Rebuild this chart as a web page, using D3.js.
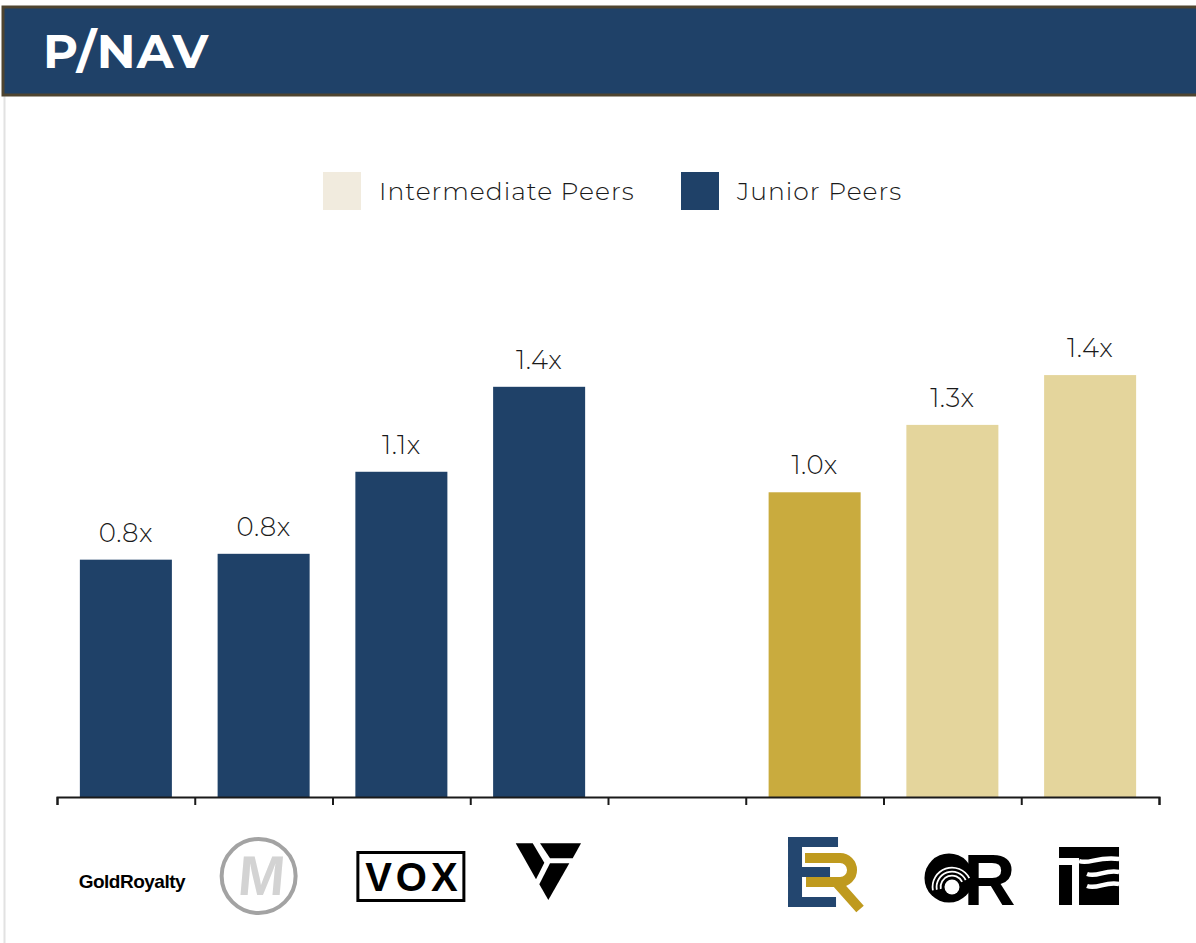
<!DOCTYPE html>
<html lang="en">

<head>
    <meta charset="UTF-8">
    <title>P/NAV</title>
    <style>
        body {
            margin: 0;
            background: #fff;
        }

        text {
            font-family: Montserrat, Inter, "Noto Sans", sans-serif;
        }

        .axis path,
        .axis line {
            stroke: #1a1a1a;
            stroke-width: 2px;
        }
    </style>
</head>

<body>

    <svg width="1196" height="943"></svg>

    <script src="https://d3js.org/d3.v7.min.js"></script>

    <script>
        // peers, left to right (empty slot = gap between the two groups)
        var companies = ["GoldRoyalty", "Metalla", "VOX", "V", "", "ER", "OR", "TF"];
        var groups = ["Junior", "Junior", "Junior", "Junior", null, "Highlight", "Intermediate", "Intermediate"];
        var pnav = [0.81, 0.83, 1.11, 1.40, null, 1.04, 1.27, 1.44];

        var legendLabels = ["Intermediate Peers", "Junior Peers"];

        var colors = {
            Junior: "#1f4168",
            Intermediate: "#e4d59c",
            Highlight: "#c9ab3e",
            legendIntermediate: "#f1ebde"
        };

        var svg = d3.select("svg");

        // header band
        svg.append("line")
            .attr("x1", 4.5).attr("x2", 4.5)
            .attr("y1", 96).attr("y2", 943)
            .attr("stroke", "#e2e2e2")
            .attr("stroke-width", 2);

        svg.append("rect")
            .attr("x", 3)
            .attr("y", 7)
            .attr("width", 1210)
            .attr("height", 88)
            .attr("fill", "#1f4168")
            .attr("stroke", "#4e4430")
            .attr("stroke-width", 3);

        svg.append("text")
            .attr("x", 43)
            .attr("y", 68)
            .attr("fill", "#fff")
            .style("font-size", "48px")
            .style("font-weight", 700)
            .style("letter-spacing", "1px")
            .text("P/NAV");

        // legend
        var legend = svg.append("g")
            .selectAll("g")
            .data(legendLabels)
            .enter().append("g")
            .attr("transform", function (d, i) { return "translate(" + (i ? 681 : 323) + ",172)"; });

        legend.append("rect")
            .attr("width", 38)
            .attr("height", 38)
            .attr("fill", function (d, i) { return i ? colors.Junior : colors.legendIntermediate; });

        legend.append("text")
            .attr("x", 56)
            .attr("y", 19)
            .attr("dy", "0.35em")
            .attr("fill", "#1a1a1a")
            .style("font-size", "25px")
            .style("font-weight", 300)
            .style("letter-spacing", "1px")
            .text(function (d) { return d; });

        // scales
        var x = d3.scaleBand()
            .domain(companies)
            .range([57, 1159])
            .paddingInner(0.332)
            .paddingOuter(0.166);

        var y = d3.scaleLinear()
            .domain([0, 1.5])
            .range([797, 797 - 1.5 * 293]);

        var data = companies.map(function (c, i) {
            return { name: c, group: groups[i], value: pnav[i] };
        }).filter(function (d) { return d.value != null; });

        svg.append("g")
            .selectAll("rect")
            .data(data)
            .enter().append("rect")
            .attr("x", function (d) { return x(d.name); })
            .attr("y", function (d) { return y(d.value); })
            .attr("width", x.bandwidth())
            .attr("height", function (d) { return y(0) - y(d.value); })
            .attr("fill", function (d) { return colors[d.group]; });

        svg.append("g")
            .selectAll("text")
            .data(data)
            .enter().append("text")
            .attr("x", function (d) { return x(d.name) + x.bandwidth() / 2; })
            .attr("y", function (d) { return y(d.value) - 18; })
            .attr("text-anchor", "middle")
            .attr("fill", "#1a1a1a")
            .style("font-size", "26px")
            .style("font-weight", 300)
            .style("letter-spacing", "0.5px")
            .text(function (d) { return d3.format(".1f")(d.value) + "x"; });

        // axis with ticks on the slot boundaries
        var slots = d3.scaleLinear()
            .domain([0, companies.length])
            .range(x.range());

        svg.append("g")
            .attr("class", "axis")
            .attr("transform", "translate(0," + y(0) + ")")
            .call(d3.axisBottom(slots)
                .ticks(companies.length)
                .tickSize(8)
                .tickSizeOuter(8)
                .tickFormat(""));

        // company logos under the axis (rough redraws)
        var logos = svg.append("g")
            .selectAll("g")
            .data(data)
            .enter().append("g")
            .attr("transform", function (d) {
                return "translate(" + (x(d.name) + x.bandwidth() / 2) + ",876)";
            })
            .each(function (d) { drawLogo(d3.select(this), d.name); });

        function drawLogo(g, name) {
            if (name == "GoldRoyalty") {
                g.append("text")
                    .attr("x", 6).attr("y", 12)
                    .attr("text-anchor", "middle")
                    .style("font-family", "'Liberation Sans', Arial, sans-serif")
                    .style("font-weight", 700)
                    .style("font-size", "19px")
                    .style("letter-spacing", "-0.5px")
                    .text("GoldRoyalty");
            }
            if (name == "Metalla") {
                g.append("circle")
                    .attr("cx", -5).attr("cy", 0).attr("r", 37)
                    .attr("fill", "none")
                    .attr("stroke", "#a3a3a3")
                    .attr("stroke-width", 4);
                g.append("text")
                    .attr("x", -2).attr("y", 19)
                    .attr("text-anchor", "middle")
                    .attr("fill", "#d3d3d3")
                    .attr("transform", "skewX(-5)")
                    .style("font-family", "'Liberation Sans', Arial, sans-serif")
                    .style("font-weight", 700)
                    .style("font-size", "56px")
                    .text("M");
            }
            if (name == "VOX") {
                g.append("rect")
                    .attr("x", -43.5).attr("y", -23.5)
                    .attr("width", 106).attr("height", 48)
                    .attr("fill", "none")
                    .attr("stroke", "#000")
                    .attr("stroke-width", 3);
                g.append("text")
                    .attr("x", 12).attr("y", 15)
                    .attr("text-anchor", "middle")
                    .style("font-family", "'Liberation Sans', Arial, sans-serif")
                    .style("font-weight", 700)
                    .style("font-size", "40px")
                    .style("letter-spacing", "4px")
                    .text("VOX");
            }
            if (name == "V") {
                var shapes = [
                    [[-23.4, -32.7], [-6.4, -32.7], [5.2, -13.3], [-3.1, 3.3]],
                    [[0.9, -32.7], [41.9, -32.7], [33.6, -17.7], [10.9, -17.7]],
                    [[10.9, -12.7], [30.2, -12.7], [9.2, 24], [0.2, 8.3]]
                ];
                shapes.forEach(function (p) {
                    g.append("polygon")
                        .attr("points", p.join(" "))
                        .attr("fill", "#000");
                });
            }
            if (name == "ER") {
                var e = [[-26.6, -39, 14, 70], [-26.6, -39, 50, 10], [-26.6, -9, 42, 10], [-26.6, 21, 48, 10]];
                e.forEach(function (r) {
                    g.append("rect")
                        .attr("x", r[0]).attr("y", r[1])
                        .attr("width", r[2]).attr("height", r[3])
                        .attr("fill", "#23466f");
                });
                g.append("path")
                    .attr("d", "M-9.6,-18H25.4A12,12 0 0 1 25.4,6H-8.6M21.4,6L45.4,33")
                    .attr("fill", "none")
                    .attr("stroke", "#bf9a1e")
                    .attr("stroke-width", 10);
            }
            if (name == "OR") {
                g.append("text")
                    .attr("x", 11).attr("y", 29)
                    .style("font-family", "'Liberation Sans', Arial, sans-serif")
                    .style("font-weight", 700)
                    .style("font-size", "72px")
                    .text("R");
                g.append("circle")
                    .attr("cx", -3.4).attr("cy", 2).attr("r", 24.5)
                    .attr("fill", "#000");
                [10.5, 14.5, 18.5].forEach(function (r) {
                    g.append("path")
                        .attr("transform", "translate(-0.4,11)")
                        .attr("d", d3.arc()({ innerRadius: r, outerRadius: r + 1.8, startAngle: -1.75, endAngle: 1.1 }))
                        .attr("fill", "#fff");
                });
                g.append("circle")
                    .attr("cx", -0.4).attr("cy", 11).attr("r", 7.5)
                    .attr("fill", "#fff");
            }
            if (name == "TF") {
                g.append("rect")
                    .attr("x", -31.1).attr("y", -29)
                    .attr("width", 60).attr("height", 58)
                    .attr("fill", "#000");
                g.append("rect")
                    .attr("x", -31.1).attr("y", -18)
                    .attr("width", 20).attr("height", 7)
                    .attr("fill", "#fff");
                g.append("rect")
                    .attr("x", -18.1).attr("y", -18)
                    .attr("width", 7).attr("height", 47)
                    .attr("fill", "#fff");
                [[-11.1, -15], [-3.1, -2], [-3.1, 10]].forEach(function (w) {
                    g.append("path")
                        .attr("d", "M" + w[0] + "," + w[1] + "C" + (w[0] + 10) + "," + (w[1] + 4) + " " + (w[0] + 18) + "," + (w[1] - 5) + " 29," + (w[1] - 2))
                        .attr("fill", "none")
                        .attr("stroke", "#fff")
                        .attr("stroke-width", 4.5);
                });
            }
        }
    </script>

</body>

</html>
